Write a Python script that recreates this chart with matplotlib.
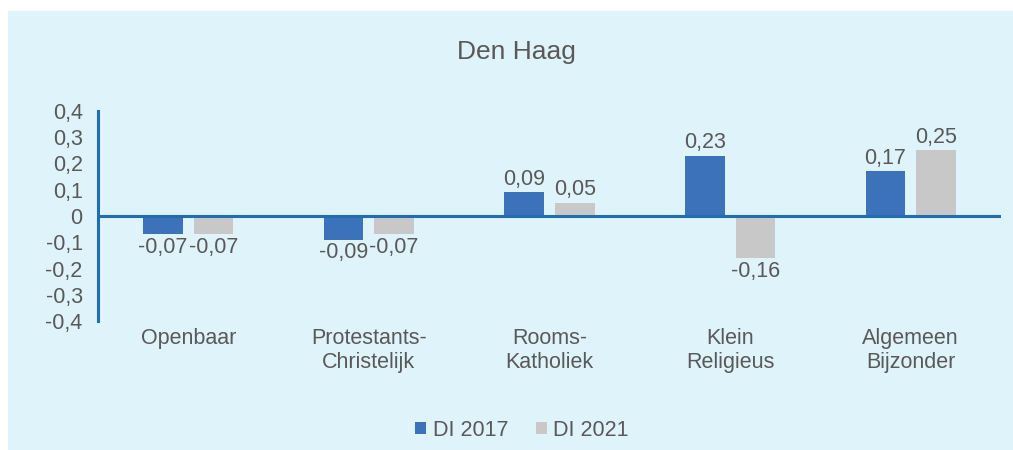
import matplotlib.pyplot as plt
import numpy as np
from matplotlib.patches import Rectangle
from matplotlib.ticker import FuncFormatter

# Data
categories = ['Openbaar', 'Protestants-\nChristelijk', 'Rooms-\nKatholiek',
              'Klein\nReligieus', 'Algemeen\nBijzonder']
di_2017 = [-0.07, -0.09, 0.09, 0.23, 0.17]
di_2021 = [-0.07, -0.07, 0.05, -0.16, 0.25]
series_names = ['DI 2017', 'DI 2021']

BLUE = '#3C72BA'
GREY = '#C8C8C8'
AXIS = '#1F6FB0'
TEXT = '#595959'
BG = '#DFF3FA'
FS = 15.5

plt.rcParams['font.family'] = ['Liberation Sans', 'DejaVu Sans']

W, H = 1013, 450
fig = plt.figure(figsize=(W / 100, H / 100), dpi=100, facecolor='white')

# light blue panel
fig.patches.append(Rectangle((8 / W, 0), 1 - 8 / W, (H - 11) / H,
                             transform=fig.transFigure, facecolor=BG,
                             edgecolor='none', zorder=-10))

ax = fig.add_axes([98 / W, 129 / H, (1001 - 98) / W, (321 - 111) / H])
ax.set_facecolor('none')

x = np.arange(len(categories))
width = 0.22
off = 0.14
b1 = ax.bar(x - off, di_2017, width, color=BLUE, label=series_names[0])
b2 = ax.bar(x + off, di_2021, width, color=GREY, label=series_names[1])


def fmt(v):
    return f'{v:.2f}'.replace('.', ',')


for bars, vals in ((b1, di_2017), (b2, di_2021)):
    for rect, v in zip(bars, vals):
        cx = rect.get_x() + rect.get_width() / 2
        if v >= 0:
            ax.annotate(fmt(v), (cx, v), xytext=(0, 2), textcoords='offset points',
                        ha='center', va='bottom', fontsize=FS, color=TEXT)
        else:
            ax.annotate(fmt(v), (cx, v), xytext=(0, -2), textcoords='offset points',
                        ha='center', va='top', fontsize=FS, color=TEXT)

ax.set_xlim(-0.5, len(categories) - 0.5)
ax.set_ylim(-0.4, 0.4)
ax.set_yticks(np.arange(-0.4, 0.41, 0.1))
ax.yaxis.set_major_formatter(FuncFormatter(
    lambda v, p: '0' if abs(v) < 1e-9 else f'{v:.1f}'.replace('.', ',')))
ax.set_xticks(x)
ax.set_xticklabels(categories, linespacing=1.2)
ax.tick_params(axis='both', length=0, labelsize=FS, labelcolor=TEXT)
ax.tick_params(axis='y', pad=11)
ax.tick_params(axis='x', pad=5)

for s in ('top', 'right', 'bottom'):
    ax.spines[s].set_visible(False)
ax.spines['left'].set_color(AXIS)
ax.spines['left'].set_linewidth(2.2)
ax.axhline(0, color=AXIS, linewidth=2.2, zorder=3)

fig.text(516 / W, 1 - 52 / H, 'Den Haag', ha='center', va='center',
         fontsize=19, color=TEXT)

fig.legend(handles=[b1, b2], loc='center', bbox_to_anchor=(522 / W, 1 - 430 / H),
           ncol=2, frameon=False, fontsize=FS, handlelength=0.5,
           handleheight=0.5, handletextpad=0.3, columnspacing=1.3,
           labelcolor=TEXT)

fig.savefig('out.png', dpi=100, facecolor='white')
